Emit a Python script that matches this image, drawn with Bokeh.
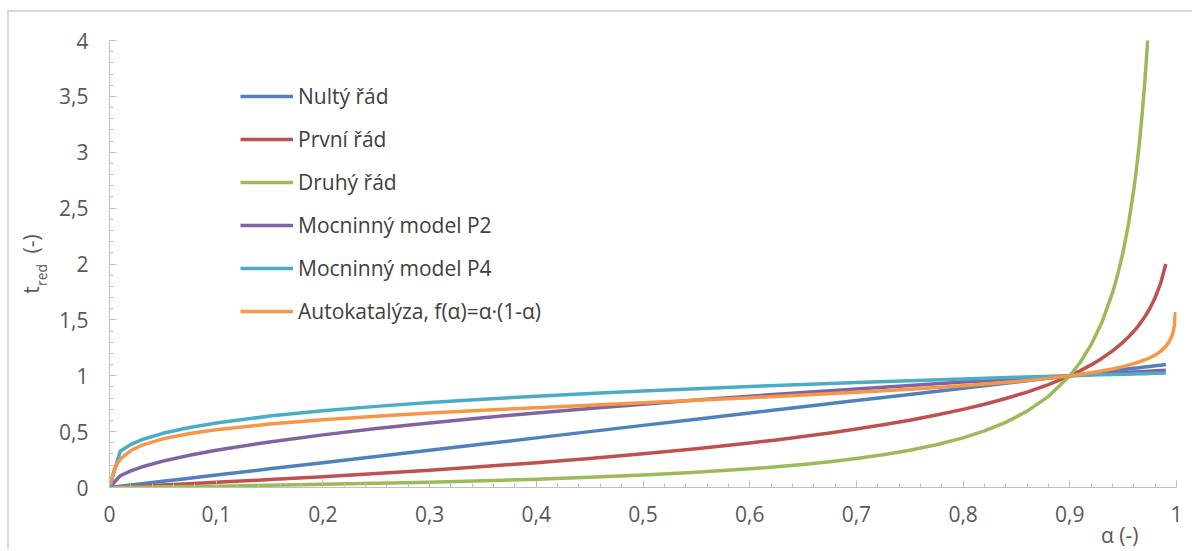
from bokeh.plotting import figure
from bokeh.models import (FixedTicker, Legend, LegendItem, LinearAxis, Range1d, Title)
from bokeh.embed import file_html
from bokeh.resources import INLINE

# ---- data ----
alpha = [0, 0.01, 0.02, 0.03, 0.05, 0.075, 0.1, 0.15, 0.2, 0.25, 0.3, 0.35, 0.4,
         0.45, 0.5, 0.55, 0.6, 0.65, 0.7, 0.75, 0.8, 0.85, 0.875, 0.9, 0.91, 0.92,
         0.93, 0.94, 0.95, 0.96, 0.965, 0.97, 0.975, 0.98, 0.985, 0.99]

nulty = [0, 0.011, 0.022, 0.033, 0.056, 0.083, 0.111, 0.167, 0.222, 0.278, 0.333,
         0.389, 0.444, 0.5, 0.556, 0.611, 0.667, 0.722, 0.778, 0.833, 0.889, 0.944,
         0.972, 1.0, 1.011, 1.022, 1.033, 1.044, 1.056, 1.067, 1.072, 1.078, 1.083,
         1.089, 1.094, 1.1]

mocn_p2 = [0, 0.105, 0.149, 0.183, 0.236, 0.289, 0.333, 0.408, 0.471, 0.527, 0.577,
           0.624, 0.667, 0.707, 0.745, 0.782, 0.817, 0.85, 0.882, 0.913, 0.943, 0.972,
           0.986, 1.0, 1.006, 1.011, 1.017, 1.022, 1.027, 1.033, 1.035, 1.038, 1.041,
           1.044, 1.046, 1.049]

mocn_p4 = [0, 0.325, 0.386, 0.427, 0.485, 0.537, 0.577, 0.639, 0.687, 0.726, 0.76,
           0.79, 0.817, 0.841, 0.863, 0.884, 0.904, 0.922, 0.939, 0.955, 0.971, 0.986,
           0.993, 1.0, 1.003, 1.006, 1.008, 1.011, 1.014, 1.016, 1.018, 1.019, 1.02,
           1.022, 1.023, 1.024]

alpha_red = [0, 0.01, 0.02, 0.03, 0.05, 0.075, 0.1, 0.15, 0.2, 0.25, 0.3, 0.35, 0.4,
             0.45, 0.5, 0.55, 0.6, 0.625, 0.65, 0.675, 0.7, 0.725, 0.75, 0.775, 0.8,
             0.82, 0.84, 0.86, 0.88, 0.9, 0.91, 0.92, 0.93, 0.94, 0.945, 0.95, 0.955,
             0.96, 0.965, 0.97, 0.975, 0.98, 0.985, 0.99]

prvni = [0, 0.004, 0.009, 0.013, 0.022, 0.034, 0.046, 0.071, 0.097, 0.125, 0.155,
         0.187, 0.222, 0.26, 0.301, 0.347, 0.398, 0.426, 0.456, 0.488, 0.523, 0.561,
         0.602, 0.648, 0.699, 0.745, 0.796, 0.854, 0.921, 1.0, 1.046, 1.097, 1.155,
         1.222, 1.26, 1.301, 1.347, 1.398, 1.456, 1.523, 1.602, 1.699, 1.824, 2.0]

alpha_green = [0, 0.01, 0.02, 0.03, 0.05, 0.075, 0.1, 0.15, 0.2, 0.25, 0.3, 0.35, 0.4,
               0.45, 0.5, 0.55, 0.6, 0.625, 0.65, 0.675, 0.7, 0.725, 0.75, 0.775, 0.8,
               0.82, 0.84, 0.86, 0.88, 0.9, 0.91, 0.92, 0.93, 0.94, 0.945, 0.95, 0.955,
               0.96, 0.962, 0.965, 0.967, 0.97, 0.972, 0.974, 0.975, 0.98]

druhy = [0, 0.001, 0.002, 0.003, 0.006, 0.009, 0.012, 0.02, 0.028, 0.037, 0.048,
         0.06, 0.074, 0.091, 0.111, 0.136, 0.167, 0.185, 0.206, 0.231, 0.259, 0.293,
         0.333, 0.383, 0.444, 0.506, 0.583, 0.683, 0.815, 1.0, 1.123, 1.278, 1.476,
         1.741, 1.909, 2.111, 2.358, 2.667, 2.813, 3.063, 3.256, 3.593, 3.857, 4.162,
         4.333, 5.444]

alpha_auto = [0.001, 0.002, 0.005, 0.01, 0.02, 0.03, 0.05, 0.075, 0.1, 0.15, 0.2,
              0.25, 0.3, 0.35, 0.4, 0.45, 0.5, 0.55, 0.6, 0.65, 0.7, 0.75, 0.8, 0.85,
              0.875, 0.9, 0.92, 0.94, 0.95, 0.96, 0.97, 0.975, 0.98, 0.985, 0.99,
              0.993, 0.995, 0.997, 0.998, 0.999]

autokat = [0.03, 0.076, 0.177, 0.254, 0.331, 0.377, 0.435, 0.483, 0.517, 0.568, 0.606,
           0.638, 0.666, 0.691, 0.714, 0.737, 0.759, 0.781, 0.803, 0.827, 0.852, 0.879,
           0.911, 0.949, 0.972, 1.0, 1.027, 1.061, 1.082, 1.108, 1.141, 1.161, 1.186,
           1.218, 1.263, 1.303, 1.34, 1.396, 1.45, 1.57]

series_names = ["Nultý řád", "První řád", "Druhý řád", "Mocninný model P2",
                "Mocninný model P4", "Autokatalýza, f(α)=α·(1-α)"]
series_colors = ["#4F81BD", "#C0504D", "#9BBB59", "#8064A2", "#4BACC6", "#F79646"]

x_ticks = [0, 0.1, 0.2, 0.3, 0.4, 0.5, 0.6, 0.7, 0.8, 0.9, 1.0]
x_tick_labels = ["0", "0,1", "0,2", "0,3", "0,4", "0,5", "0,6", "0,7", "0,8", "0,9", "1"]
y_ticks = [0, 0.5, 1, 1.5, 2, 2.5, 3, 3.5, 4]
y_tick_labels = ["0", "0,5", "1", "1,5", "2", "2,5", "3", "3,5", "4"]

x_title = "α (-)"
y_title_main = "t"
y_title_sub = "red"
y_title_unit = "(-)"

FONT = "Open Sans"
NBSP = "\u00a0"
ZWSP = "\u200b"

p = figure(width=1185, height=539, output_backend="svg", toolbar_location=None,
           x_range=Range1d(0, 1), y_range=Range1d(0, 4),
           min_border_left=100, min_border_right=18, min_border_top=28,
           min_border_bottom=64)
p.styles = {"margin-left": "7px", "margin-top": "10px",
            "border-left": "2px solid #d9d9d9", "border-top": "2px solid #d9d9d9"}
p.outline_line_color = None
p.xgrid.grid_line_color = None
p.ygrid.grid_line_color = None
p.background_fill_color = "white"
p.border_fill_color = "white"

xs_list = [alpha, alpha_red, alpha_green, alpha, alpha, alpha_auto]
ys_list = [nulty, prvni, druhy, mocn_p2, mocn_p4, autokat]
items = []
for name, col, xs, ys in zip(series_names, series_colors, xs_list, ys_list):
    r = p.line(xs, ys, line_color=col, line_width=3.5, line_join="round")
    items.append(LegendItem(label=name, renderers=[r]))

legend = Legend(items=items, location=(131, 162), orientation="vertical",
                label_text_font=FONT, label_text_font_size="21px",
                label_text_color="#404040", glyph_width=53, glyph_height=20,
                label_height=20, spacing=15, padding=0, margin=0,
                label_standoff=5, border_line_color=None,
                background_fill_alpha=0)
p.add_layout(legend)

for ax in (p.xaxis[0], p.yaxis[0]):
    ax.axis_line_color = "#bfbfbf"
    ax.major_tick_line_color = "#bfbfbf"
    ax.minor_tick_line_color = "#bfbfbf"
    ax.major_label_text_font = FONT
    ax.major_label_text_font_size = "21px"
    ax.major_label_text_color = "#595959"
    ax.major_tick_in = 7
    ax.major_tick_out = 0
    ax.minor_tick_in = 4
    ax.minor_tick_out = 0

xa = p.xaxis[0]
xa.ticker = FixedTicker(ticks=x_ticks, minor_ticks=[i / 50 for i in range(51)])
xa.major_label_overrides = {t: l for t, l in zip(x_ticks, x_tick_labels)}
xa.major_label_standoff = 18

ya = p.yaxis[0]
ya.ticker = FixedTicker(ticks=y_ticks, minor_ticks=[i / 10 for i in range(41)])
ya.major_label_overrides = {t: l for t, l in zip(y_ticks, y_tick_labels)}
ya.major_label_standoff = 21

# x-axis title: right side, below the tick labels
p.add_layout(Title(text=x_title, align="right", offset=38, standoff=-12,
                   text_font=FONT, text_font_size="21px", text_font_style="normal",
                   text_color="#595959"), "below")


def title_axis(text, size, standoff):
    ax = LinearAxis(ticker=FixedTicker(ticks=[], minor_ticks=[]),
                    axis_line_color=None, major_tick_line_color=None,
                    minor_tick_line_color=None, major_label_text_font_size="0px",
                    axis_label=text, axis_label_standoff=standoff,
                    axis_label_text_font=FONT, axis_label_text_font_size=size,
                    axis_label_text_font_style="normal",
                    axis_label_text_color="#595959")
    p.add_layout(ax, "left")
    return ax


# subscript "red" (closer to the plot), then "t ... (-)" overlapping it
title_axis(y_title_sub + NBSP * 6 + ZWSP, "14px", 6)
title_axis(y_title_main + NBSP * 6 + y_title_unit, "21px", -16)

open("out.html", "w").write(file_html(p, INLINE))
